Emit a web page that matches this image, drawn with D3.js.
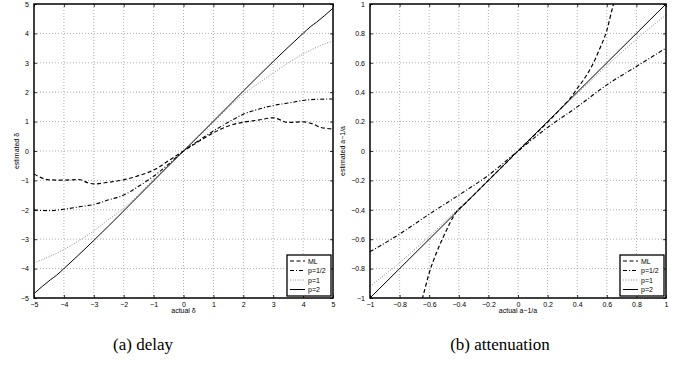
<!DOCTYPE html>
<html>
<head>
<meta charset="utf-8">
<script src="https://cdn.jsdelivr.net/npm/d3@7"></script>
<style>
  body { margin: 0; background: #fff; }
  svg { display: block; }
  .tick text { font-family: "Liberation Sans", Arial, sans-serif; font-size: 7px; fill: #000; }
  .lab { font-family: "Liberation Sans", Arial, sans-serif; font-size: 7px; fill: #000; }
  .cap { font-family: "Liberation Serif", "Times New Roman", serif; font-size: 17px; fill: #000; }
</style>
</head>
<body>
<script>
// (a) delay : actual delta vs estimated delta
const delayML   = [[-5,-0.78],[-4.5,-0.98],[-4,-0.99],[-3.5,-0.97],[-3.2,-1.08],[-3,-1.12],[-2.5,-1.06],[-2,-0.98],[-1.5,-0.84],[-1,-0.65],[-0.5,-0.33],[0,0],
                   [0.5,0.32],[1,0.62],[1.5,0.85],[2,0.98],[2.5,1.05],[3,1.13],[3.5,0.97],[4,0.99],[4.3,0.93],[4.6,0.8],[5,0.75]];
const delayP05  = [[-5,-2.01],[-4.5,-2.03],[-4,-1.98],[-3.5,-1.9],[-3,-1.82],[-2.5,-1.66],[-2,-1.5],[-1.5,-1.2],[-1,-0.86],[-0.5,-0.45],[0,0],
                   [0.5,0.35],[1,0.68],[1.5,0.98],[2,1.25],[2.5,1.42],[3,1.55],[3.5,1.63],[4,1.72],[4.5,1.76],[5,1.77]];
const delayP1   = [[-5,-3.8],[-4.5,-3.6],[-4,-3.35],[-3.5,-3.05],[-3,-2.72],[-2.5,-2.33],[-2,-1.95],[-1,-0.97],[0,0],
                   [1,0.97],[2,1.93],[2.5,2.3],[3,2.65],[3.5,3.0],[4,3.3],[4.5,3.55],[5,3.74]];
const delayP2   = [[-5,-4.85],[-4.45,-4.38],[-4.25,-4.23],[-4,-4],[0,0],[4,4],[4.25,4.23],[4.45,4.38],[5,4.86]];
const delayTicks = d3.range(-5, 6);

// (b) attenuation : actual a-1/a vs estimated a-1/a
const attML  = [[-0.66,-1.05],[-0.64,-0.98],[-0.6,-0.83],[-0.55,-0.69],[-0.5,-0.575],[-0.46,-0.49],[-0.42,-0.42],[-0.35,-0.35],[-0.3,-0.3],[0,0],
                [0.3,0.3],[0.35,0.355],[0.4,0.425],[0.45,0.495],[0.5,0.58],[0.55,0.69],[0.6,0.82],[0.64,0.98],[0.66,1.05]];
const attP05 = [[-1,-0.685],[-0.8,-0.565],[-0.6,-0.43],[-0.4,-0.3],[-0.2,-0.165],[0,0],[0.2,0.16],[0.4,0.3],[0.6,0.45],[0.8,0.575],[1,0.7]];
const attP1  = [[-1,-0.92],[-0.8,-0.76],[-0.6,-0.58],[-0.4,-0.39],[-0.2,-0.2],[0,0],[0.2,0.2],[0.4,0.39],[0.6,0.58],[0.8,0.76],[1,0.925]];
const attP2  = [[-1,-1],[1,1]];
const attTicks = d3.range(-5, 6).map(d => d / 5);

const legendNames = ["ML", "p=1/2", "p=1", "p=2"];
const styles = [
  {stroke: "#000", dash: "4,2.5", width: 1.2},
  {stroke: "#000", dash: "4,2,1,2", width: 1.1},
  {stroke: "#888", dash: "1,1.6", width: 1},
  {stroke: "#000", dash: null, width: 1}
];

const W = 683, H = 392;
const svg = d3.select("body").append("svg").attr("width", W).attr("height", H);

const fmt = d3.format("~g");

function panel(opts) {
  const x = d3.scaleLinear().domain(opts.dom).range([opts.x0, opts.x1]);
  const y = d3.scaleLinear().domain(opts.dom).range([opts.y1, opts.y0]);
  const g = svg.append("g");
  const clipId = "clip" + opts.id;
  g.append("clipPath").attr("id", clipId)
    .append("rect").attr("x", opts.x0).attr("y", opts.y0)
    .attr("width", opts.x1 - opts.x0).attr("height", opts.y1 - opts.y0);

  // grid
  g.append("g").selectAll("line").data(opts.ticks.slice(1, -1)).enter().append("line")
    .attr("x1", d => x(d)).attr("x2", d => x(d)).attr("y1", opts.y0).attr("y2", opts.y1)
    .attr("stroke", "#999").attr("stroke-width", 0.8).attr("stroke-dasharray", "1,2");
  g.append("g").selectAll("line").data(opts.ticks.slice(1, -1)).enter().append("line")
    .attr("y1", d => y(d)).attr("y2", d => y(d)).attr("x1", opts.x0).attr("x2", opts.x1)
    .attr("stroke", "#999").attr("stroke-width", 0.8).attr("stroke-dasharray", "1,2");

  // axes with inward ticks on all sides
  const ax = (gen, tx, ty, lab) => {
    const a = g.append("g").attr("transform", `translate(${tx},${ty})`)
      .call(gen.tickValues(opts.ticks).tickSizeInner(-3).tickSizeOuter(0).tickPadding(5)
        .tickFormat(lab ? fmt : ""));
    a.select(".domain").remove();
    a.selectAll(".tick line").attr("stroke", "#000").attr("stroke-width", 0.8);
    return a;
  };
  const bx = ax(d3.axisBottom(x), 0, opts.y1, true);
  bx.selectAll(".tick text").attr("dy", "0.5em");
  ax(d3.axisTop(x), 0, opts.y0, false);
  ax(d3.axisLeft(y), opts.x0, 0, true);
  ax(d3.axisRight(y), opts.x1, 0, false);

  // series
  const line = d3.line().x(d => x(d[0])).y(d => y(d[1])).curve(d3.curveMonotoneX);
  const lg = g.append("g").attr("clip-path", `url(#${clipId})`);
  opts.series.forEach((s, i) => {
    lg.append("path").datum(s).attr("d", line).attr("fill", "none")
      .attr("stroke", styles[i].stroke).attr("stroke-width", styles[i].width)
      .attr("stroke-dasharray", styles[i].dash);
  });

  // frame
  g.append("rect").attr("x", opts.x0).attr("y", opts.y0)
    .attr("width", opts.x1 - opts.x0).attr("height", opts.y1 - opts.y0)
    .attr("fill", "none").attr("stroke", "#000").attr("stroke-width", 1.5);

  // labels
  g.append("text").attr("class", "lab").attr("text-anchor", "middle")
    .attr("x", (opts.x0 + opts.x1) / 2).attr("y", opts.y1 + 15).text(opts.xlab);
  g.append("text").attr("class", "lab").attr("text-anchor", "middle")
    .attr("transform", `translate(${opts.ylx},${(opts.y0 + opts.y1) / 2}) rotate(-90)`).text(opts.ylab);

  // legend
  const L = g.append("g").attr("transform", `translate(${opts.x1 - 46},${opts.y1 - 43})`);
  L.append("rect").attr("width", 44).attr("height", 41).attr("fill", "#fff")
    .attr("stroke", "#000").attr("stroke-width", 1.3);
  legendNames.forEach((n, i) => {
    const yy = 6 + i * 9.5;
    L.append("line").attr("x1", 3).attr("x2", 18).attr("y1", yy).attr("y2", yy)
      .attr("stroke", styles[i].stroke).attr("stroke-width", styles[i].width)
      .attr("stroke-dasharray", styles[i].dash);
    L.append("text").attr("class", "lab").attr("x", 21).attr("y", yy + 2.5).text(n);
  });

  svg.append("text").attr("class", "cap").attr("text-anchor", "middle")
    .attr("x", opts.capx).attr("y", 350).text(opts.cap);
}

panel({id: "a", dom: [-5, 5], ticks: delayTicks, x0: 34, x1: 333, y0: 4, y1: 298,
  series: [delayML, delayP05, delayP1, delayP2], xlab: "actual δ", ylab: "estimated δ", ylx: 19,
  cap: "(a) delay", capx: 143});
panel({id: "b", dom: [-1, 1], ticks: attTicks, x0: 370, x1: 666, y0: 4, y1: 298,
  series: [attML, attP05, attP1, attP2], xlab: "actual a−1/a", ylab: "estimated a−1/a", ylx: 345,
  cap: "(b) attenuation", capx: 500});
</script>
</body>
</html>
